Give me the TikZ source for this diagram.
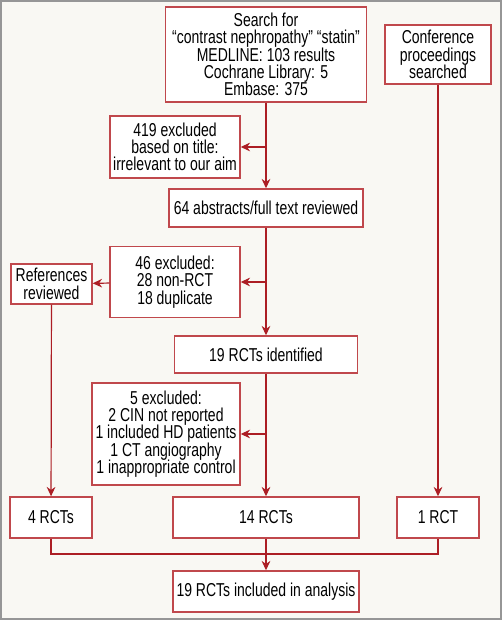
\documentclass[tikz,border=0pt]{standalone}
\usepackage{fontspec}
\setmainfont[FakeStretch=0.75]{Liberation Sans}
\usetikzlibrary{arrows.meta}
\definecolor{boxred}{RGB}{192,72,76}
\definecolor{linered}{RGB}{172,30,36}
\definecolor{paper}{RGB}{249,248,243}
\definecolor{frame}{RGB}{150,150,150}
\newcommand{\boxfont}{\fontsize{14pt}{13pt}\selectfont\lineskiplimit=-6pt\relax}
\begin{document}
\begin{tikzpicture}[x=0.75pt,y=0.75pt,
    box/.style={draw=boxred,line width=1.1pt,fill=white,align=center,inner sep=1pt,
      font=\boxfont},
    link/.style={draw=linered,line width=0.9pt},
    arrow/.style={link,-{Stealth[length=7pt,width=6.5pt]}}]
            \draw[frame,fill=paper,line width=1.5pt] (1,1) rectangle (501,619);
            \useasboundingbox (0,0) rectangle (502,620);
            \node[box,minimum width=150.75pt,minimum height=71.25pt] (search) at (266,565.5)
              {Search for\\“contrast nephropathy” “statin”\\MEDLINE: 103 results\\Cochrane Library: 5\\Embase: 375};
            \node[box,minimum width=79.5pt,minimum height=44.25pt] (conf) at (438,565.5) {Conference\\proceedings\\searched};
            \node[box,minimum width=97.5pt,minimum height=46.5pt] (excl1) at (175,473) {419 excluded\\based on title:\\irrelevant to our aim};
            \node[box,minimum width=145.5pt,minimum height=28.5pt] (abstr) at (266,412) {64 abstracts/full text reviewed};
            \node[box,minimum width=97.5pt,minimum height=53.25pt] (excl2) at (175,338) {46 excluded:\\28 non-RCT\\18 duplicate};
            \node[box,minimum width=60.75pt,minimum height=30pt] (refs) at (51.5,336) {References\\reviewed};
            \node[box,minimum width=137.25pt,minimum height=27.75pt] (ident) at (266,265.5) {19 RCTs identified};
            \node[box,minimum width=111pt,minimum height=76.5pt] (excl3) at (166,186)
              {5 excluded:\\2 CIN not reported\\1 included HD patients\\1 CT angiography\\1 inappropriate control};
            \node[box,minimum width=61.5pt,minimum height=30.75pt] (rct4) at (51,102.5) {4 RCTs};
            \node[box,minimum width=139.5pt,minimum height=30.75pt] (rct14) at (266,102.5) {14 RCTs};
            \node[box,minimum width=61.5pt,minimum height=30.75pt] (rct1) at (438,102.5) {1 RCT};
            \node[box,minimum width=139.5pt,minimum height=30.75pt] (final) at (266,28.5) {19 RCTs included in analysis};
            \coordinate (merge) at (266,66);
            \draw[arrow] (search) -- (abstr);
            \draw[arrow] (search.south |- excl1.east) -- (excl1.east);
            \draw[arrow] (abstr) -- (ident);
            \draw[arrow] (abstr.south |- excl2.east) -- (excl2.east);
            \draw[arrow] (excl2) -- (refs);
            \draw[arrow] (refs) -- (rct4);
            \draw[arrow] (ident) -- (rct14);
            \draw[arrow] (ident.south |- excl3.east) -- (excl3.east);
            \draw[arrow] (conf) -- (rct1);
            \draw[link] (rct4.south) |- (merge) -| (rct1.south);
            \draw[arrow] (rct14) -- (final);
          \end{tikzpicture}
\end{document}
